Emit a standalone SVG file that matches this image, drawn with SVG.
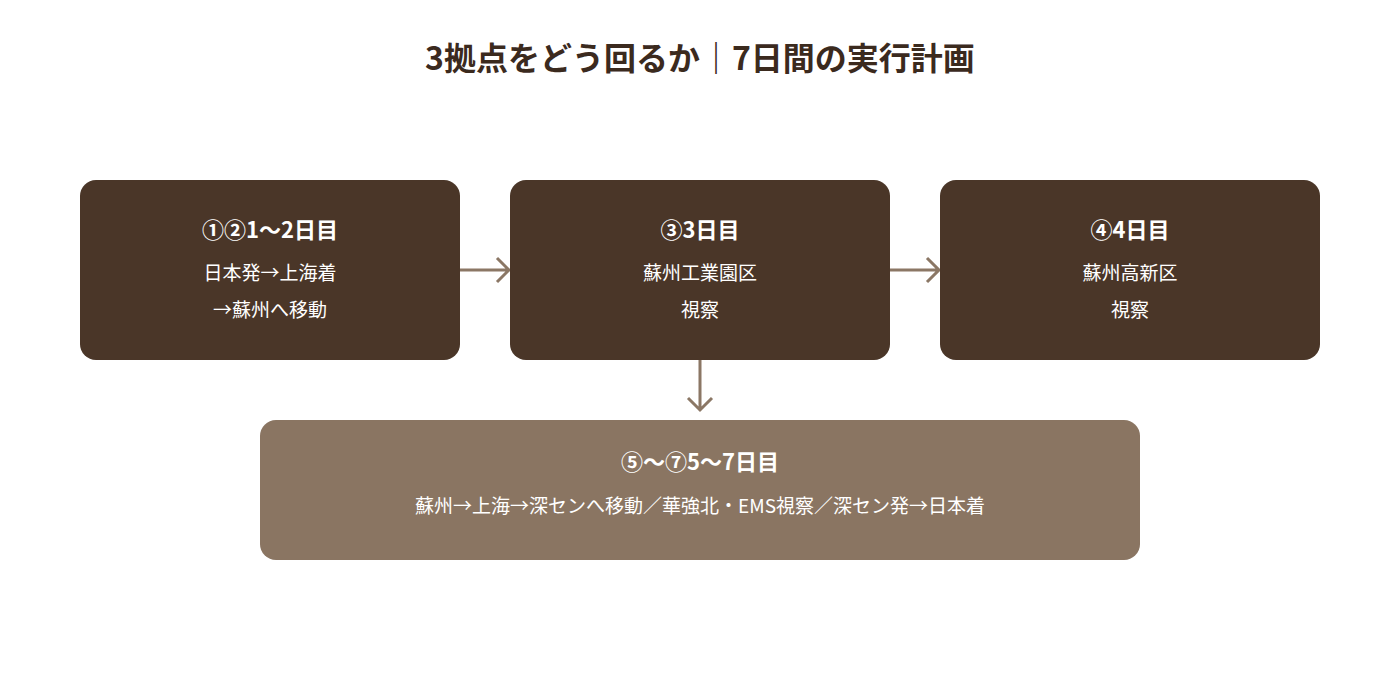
<svg xmlns="http://www.w3.org/2000/svg" width="1400" height="700" viewBox="0 0 1400 700">
<style>
text{font-family:"Noto Sans CJK JP","Noto Sans",sans-serif;fill:#fff;text-anchor:middle}
.t{font-size:22px;font-weight:700}
.b{font-size:19px}
.c{stroke:#8B7765;stroke-width:3;fill:none}
</style>
<rect width="1400" height="700" fill="#fff"/>
<text x="700" y="70" style="font-size:32px;font-weight:700;fill:#3B2A1E">3拠点をどう回るか｜7日間の実行計画</text>
<g id="connectors">
<path class="c" d="M460 270H509M497 258L509 270L497 282"/>
<path class="c" d="M890 270H939M927 258L939 270L927 282"/>
<path class="c" d="M700 360V410M688 398L700 410L712 398"/>
</g>
<g id="n1"><rect x="80" y="180" width="380" height="180" rx="16" fill="#4A3628"/>
<text class="t" x="270" y="238">①②1〜2日目</text><text class="b" x="270" y="280">日本発→上海着</text><text class="b" x="270" y="317">→蘇州へ移動</text></g>
<g id="n2"><rect x="510" y="180" width="380" height="180" rx="16" fill="#4A3628"/>
<text class="t" x="700" y="238">③3日目</text><text class="b" x="700" y="280">蘇州工業園区</text><text class="b" x="700" y="317">視察</text></g>
<g id="n3"><rect x="940" y="180" width="380" height="180" rx="16" fill="#4A3628"/>
<text class="t" x="1130" y="238">④4日目</text><text class="b" x="1130" y="280">蘇州高新区</text><text class="b" x="1130" y="317">視察</text></g>
<g id="n4"><rect x="260" y="420" width="880" height="140" rx="16" fill="#8A7562"/>
<text class="t" x="700" y="470">⑤〜⑦5〜7日目</text><text class="b" x="700" y="513">蘇州→上海→深センへ移動／華強北・EMS視察／深セン発→日本着</text></g>
</svg>
